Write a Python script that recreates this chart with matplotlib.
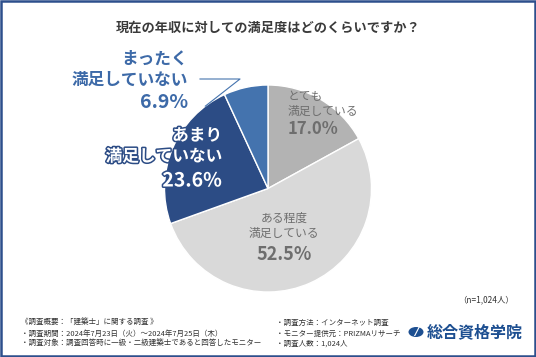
import numpy as np
import matplotlib
matplotlib.use("Agg")
import matplotlib.pyplot as plt
import matplotlib.patheffects as pe
from matplotlib.patches import Rectangle, Circle

plt.rcParams['font.family'] = ['Noto Sans CJK JP', 'DejaVu Sans']

# データ
title = '現在の年収に対しての満足度はどのくらいですか？'
labels = ['とても\n満足している', 'ある程度\n満足している', 'あまり\n満足していない', 'まったく\n満足していない']
values = [17.0, 52.5, 23.6, 6.9]
colors = ['#b3b3b3', '#d9d9d9', '#2c4c85', '#4473ae']
n_note = '（n=1,024人）'
notes_left = ['《調査概要：「建築士」に関する調査 》',
              '・調査期間：2024年7月23日（火）～2024年7月25日（木）',
              '・調査対象：調査回答時に一級・二級建築士であると回答したモニター']
notes_right = ['・調査方法：インターネット調査',
               '・モニター提供元：PRIZMAリサーチ',
               '・調査人数：1,024人']
logo_text = '総合資格学院'

W, H = 536, 357
fig = plt.figure(figsize=(W / 100, H / 100), dpi=100)
fig.patch.set_facecolor('white')


def px(x, y):
    return x / W, 1 - y / H


# 枠線
fig.patches.append(Rectangle((0.002, 0.003), 0.996, 0.994, transform=fig.transFigure,
                             fill=False, edgecolor='#2d4f8c', linewidth=1.8))

# 円グラフ
cx, cy, r = 268, 188.5, 103.5
ax = fig.add_axes([(cx - r) / W, (H - cy - r) / H, 2 * r / W, 2 * r / H])
wedges, _ = ax.pie(values, colors=colors, startangle=90, counterclock=False,
                   wedgeprops=dict(edgecolor='white', linewidth=1.0))
ax.set_xlim(-1, 1)
ax.set_ylim(-1, 1)
ax.set_aspect('auto')
ax.axis('off')

# タイトル
fig.text(*px(268, 28), title, ha='center', va='center', fontsize=9.5,
         fontweight='bold', color='#3a3a3a')

gray_txt = '#6e6e6e'
# とても満足している
fig.text(*px(288, 104), labels[0], ha='left', va='center', fontsize=8.5,
         color=gray_txt, linespacing=1.15)
fig.text(*px(288, 129), f'{values[0]:.1f}%', ha='left', va='center', fontsize=12,
         fontweight='bold', color=gray_txt)

# ある程度満足している
fig.text(*px(284, 226), labels[1], ha='center', va='center', fontsize=8.5,
         color=gray_txt, linespacing=1.15)
fig.text(*px(284, 255), f'{values[1]:.1f}%', ha='center', va='center', fontsize=13,
         fontweight='bold', color=gray_txt)

# あまり満足していない
stroke = [pe.withStroke(linewidth=2.2, foreground='#2c4c85')]
fig.text(*px(222, 146), labels[2], ha='right', va='center', fontsize=12,
         fontweight='bold', color='white', linespacing=1.2, path_effects=stroke)
fig.text(*px(222, 181), f'{values[2]:.1f}%', ha='right', va='center', fontsize=14,
         fontweight='bold', color='white', path_effects=stroke)

# まったく満足していない
fig.text(*px(188, 69), labels[3], ha='right', va='center', fontsize=12,
         fontweight='bold', color='#3d6aa8', linespacing=1.2)
fig.text(*px(188, 103), f'{values[3]:.1f}%', ha='right', va='center', fontsize=14,
         fontweight='bold', color='#3d6aa8')

# 引き出し線
start = 90 - 360 * sum(values[:3]) / 100
mid = np.deg2rad(start + 360 * values[3] / 100 / 2)
ex, ey = cx + r * np.cos(mid), cy - r * np.sin(mid)
lx = [200, 240, ex]
ly = [79, 79, ey]
fig.lines.append(plt.Line2D([x / W for x in lx], [1 - y / H for y in ly],
                            transform=fig.transFigure, color='#4473ae', linewidth=0.8))

# 注記
fig.text(*px(514, 300), n_note, ha='right', va='center', fontsize=6, color='#333333')
for i, t in enumerate(notes_left):
    fig.text(*px(21, 323 + i * 10.5), t, ha='left', va='center', fontsize=5.4, color='#333333')
for i, t in enumerate(notes_right):
    fig.text(*px(276, 323 + i * 10.5), t, ha='left', va='center', fontsize=5.4, color='#333333')

# ロゴ
fig.patches.append(Circle(px(416, 332), 7.5 / W, transform=fig.transFigure,
                          facecolor='#1d4f91', edgecolor='none'))
fig.text(*px(416, 332), '/', ha='center', va='center', fontsize=8, fontweight='bold',
         color='white', style='italic', family='DejaVu Sans')
fig.text(*px(427, 332), logo_text, ha='left', va='center', fontsize=11.5,
         fontweight='bold', color='#1d4f91')

fig.savefig('out.png', dpi=100)
